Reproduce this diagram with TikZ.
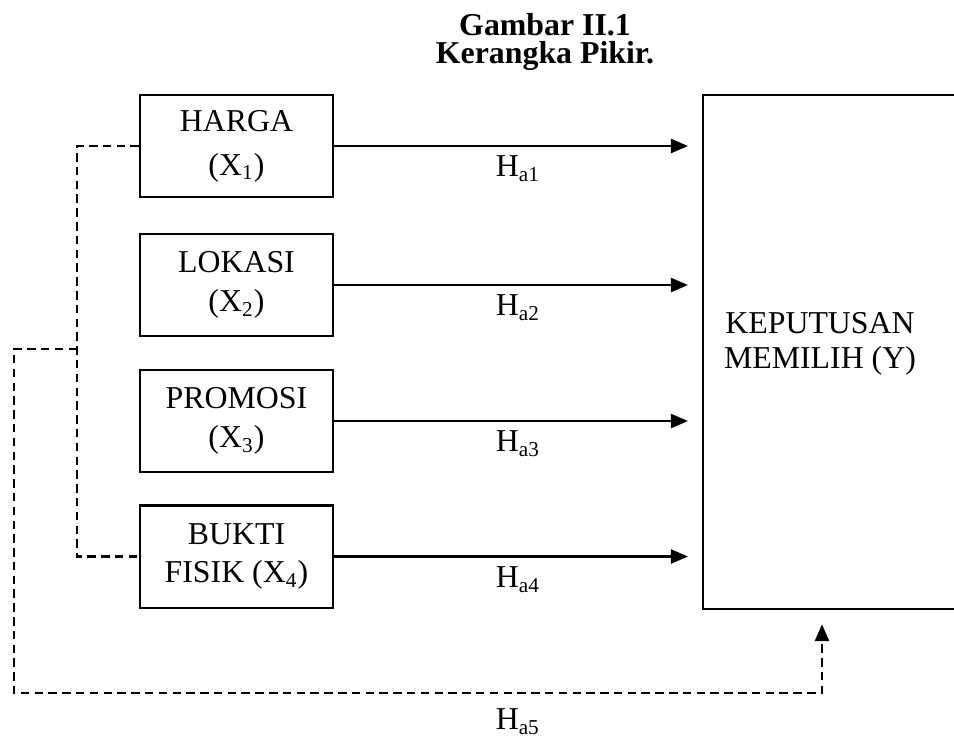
\documentclass[tikz,border=0pt]{standalone}
\usepackage{fontspec}
\setmainfont{Liberation Serif}
\usetikzlibrary{arrows.meta}

\begin{document}
\begin{tikzpicture}[x=0.377pt, y=-0.377pt,
  varbox/.style={draw, line width=0.8pt, minimum width=72.8pt, minimum height=38.5pt,
    align=center, font=\fontsize{12}{14.5}\selectfont},
  panah/.style={line width=0.8pt, -{Triangle[length=6.4pt,width=5.3pt]}, shorten >=5.3pt},
  putus/.style={line width=1pt, dash pattern=on 3.2pt off 2pt},
  hlabel/.style={font=\fontsize{12}{14.5}\selectfont}]

\useasboundingbox (0,0) rectangle (954,740);

\node[align=center, font=\fontsize{12}{10.5}\selectfont\bfseries] (judul) at (545,42)
  {Gambar II.1\\Kerangka Pikir.};

%%%%%%%%%%%%%%%%%%%%%%%%%%%%%%%%%%%%%%%%%%%%%%%%%%%%%%%%%%%%%%%%%%%%%%%%%%%%%%%%%%%
\node[varbox] (harga) at (236.5,146) {HARGA\\[2pt](X\textsubscript{1})};
\node[varbox] (lokasi) at (236.5,285) {LOKASI\\(X\textsubscript{2})};
\node[varbox] (promosi) at (236.5,421) {PROMOSI\\(X\textsubscript{3})};
\node[varbox] (bukti) at (236.5,556.5) {BUKTI\\FISIK (X\textsubscript{4})};

\node[draw, line width=0.8pt, minimum width=96.5pt, minimum height=193.8pt,
  anchor=north west, inner sep=0pt] (kep) at (702,94) {};
\node[align=center, font=\fontsize{12}{13.2}\selectfont] (keptext) at (820,344)
  {KEPUTUSAN\\MEMILIH (Y)};

%%%%%%%%%%%%%%%%%%%%%%%%%%%%%%%%%%%%%%%%%%%%%%%%%%%%%%%%%%%%%%%%%%%%%%%%%%%%%%%%%%%
\draw[panah] (harga.east) -- (kep.west |- harga.east) node[midway, below, hlabel] {H\textsubscript{a1}};
\draw[panah] (lokasi.east) -- (kep.west |- lokasi.east) node[midway, below, hlabel] {H\textsubscript{a2}};
\draw[panah] (promosi.east) -- (kep.west |- promosi.east) node[midway, below, hlabel] {H\textsubscript{a3}};
\draw[panah] (bukti.east) -- (kep.west |- bukti.east) node[midway, below, hlabel] {H\textsubscript{a4}};

%%%%%%%%%%%%%%%%%%%%%%%%%%%%%%%%%%%%%%%%%%%%%%%%%%%%%%%%%%%%%%%%%%%%%%%%%%%%%%%%%%%
\coordinate (simpul) at (77,349);
\coordinate (kiri) at (14,693);
\coordinate (kolom) at (822,693);

\draw[putus] (harga.west) -| (simpul) |- (bukti.west);
\draw[putus, panah, line width=1pt] (simpul) -| (kiri) -| (kolom |- kep.south);
\node[hlabel] (ha5) at (518,722) {H\textsubscript{a5}};

\end{tikzpicture}
\end{document}
